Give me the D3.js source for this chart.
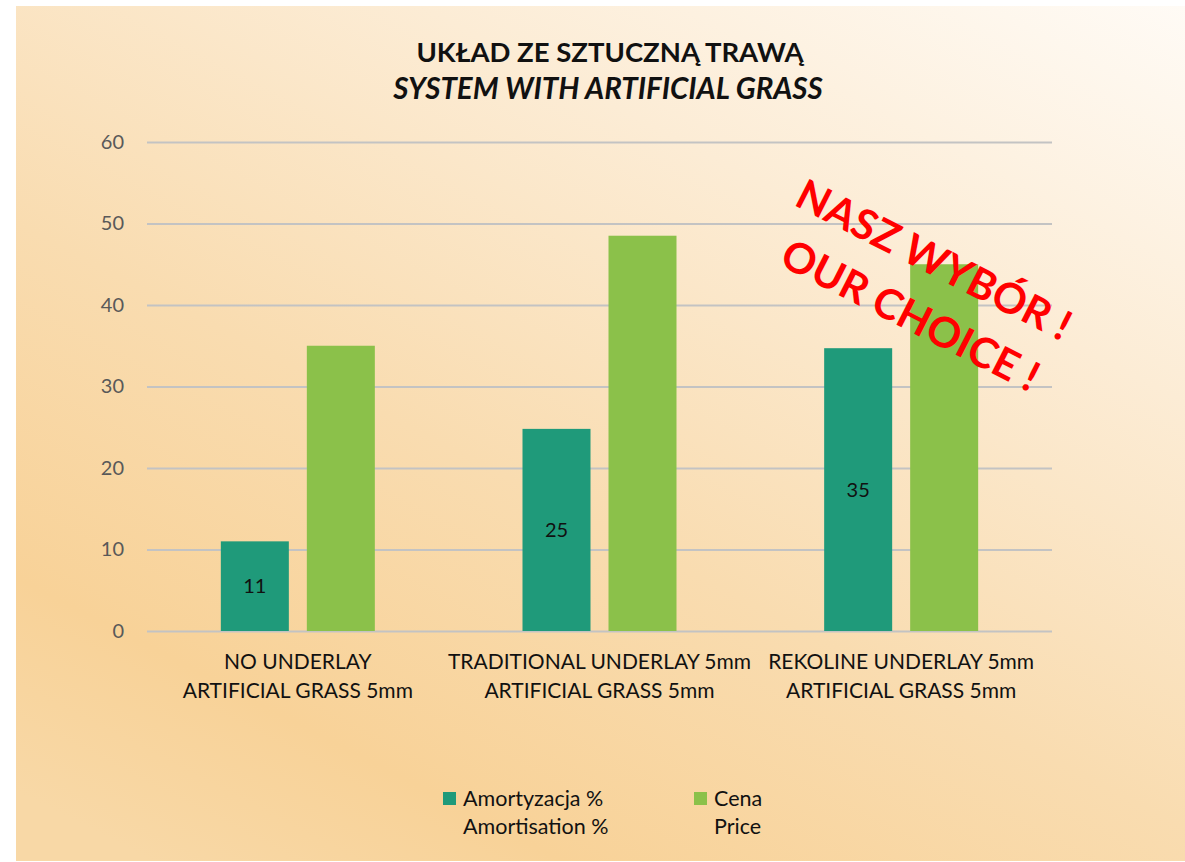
<!DOCTYPE html>
<html>
<head>
<meta charset="utf-8">
<script src="https://cdn.jsdelivr.net/npm/d3@7"></script>
<style>
  html, body { margin: 0; padding: 0; background: #ffffff; }
  svg { display: block; }
  text { font-family: Lato, "Open Sans", sans-serif; }
</style>
</head>
<body>
<svg id="chart" width="1185" height="862"></svg>
<script>
// ---- data ----
const categories = [
  ["NO UNDERLAY", "ARTIFICIAL GRASS 5mm"],
  ["TRADITIONAL UNDERLAY 5mm", "ARTIFICIAL GRASS 5mm"],
  ["REKOLINE UNDERLAY 5mm", "ARTIFICIAL GRASS 5mm"]
];
const amortisation = [11, 24.8, 34.7];
const price = [35, 48.5, 45];
const seriesNames = [["Amortyzacja %", "Amortisation %"], ["Cena", "Price"]];
const yTicks = [0, 10, 20, 30, 40, 50, 60];
const titleLines = ["UKŁAD ZE SZTUCZNĄ TRAWĄ", "SYSTEM WITH ARTIFICIAL GRASS"];
const stampLines = ["NASZ WYBÓR !", "OUR CHOICE !"];

const colors = ["#1f9a7a", "#8bc14a"];

const svg = d3.select("#chart");
const W = 1185, H = 862;

// background gradient
const defs = svg.append("defs");
const grad = defs.append("linearGradient").attr("id", "bg")
  .attr("gradientUnits", "userSpaceOnUse")
  .attr("x1", 1000).attr("y1", -120).attr("x2", 420).attr("y2", 1000);
[[0, "#fffcf8"], [0.3, "#fcecd5"], [0.6, "#f9dcb0"], [0.85, "#f8d298"], [1, "#f8d8a6"]]
  .forEach(([o, c]) => grad.append("stop").attr("offset", o).attr("stop-color", c));
svg.append("rect").attr("x", 16).attr("y", 6).attr("width", W - 16).attr("height", H - 7)
  .attr("fill", "url(#bg)");

// scales
const plotL = 147, plotR = 1052, plotT = 142, plotB = 631;
const x0 = d3.scaleBand().domain(d3.range(categories.length)).range([plotL, plotR]).padding(0);
const y = d3.scaleLinear().domain([0, 60]).range([plotB, plotT]);
const barW = 68, barGap = 18;
const x1 = d3.scaleBand().domain([0, 1])
  .range([-(barW + barGap / 2), barW + barGap / 2])
  .paddingInner(barGap / (barW + barGap)).paddingOuter(0);

// gridlines
const yAxis = d3.axisLeft(y).tickValues(yTicks).tickSize(-(plotR - plotL)).tickPadding(23);
const gy = svg.append("g").attr("transform", `translate(${plotL},0)`).call(yAxis);
gy.select(".domain").remove();
gy.selectAll(".tick line").attr("stroke", "#c3c3c3").attr("stroke-width", 2);
gy.selectAll(".tick text").attr("fill", "#595959").style("font-size", "20px")
  .style("font-family", "Lato, sans-serif");

// bars
const series = [amortisation, price];
const groups = svg.append("g").selectAll("g").data(categories).join("g")
  .attr("transform", (d, i) => `translate(${x0(i) + x0.bandwidth() / 2},0)`);
groups.selectAll("rect").data((d, i) => series.map((s, k) => ({ k, v: s[i] }))).join("rect")
  .attr("x", d => x1(d.k)).attr("width", x1.bandwidth())
  .attr("y", d => y(d.v)).attr("height", d => y(0) - y(d.v))
  .attr("fill", d => colors[d.k]);

// data labels on amortisation bars
groups.append("text")
  .datum((d, i) => amortisation[i])
  .attr("x", x1(0) + x1.bandwidth() / 2)
  .attr("y", v => (y(v) + y(0)) / 2)
  .attr("dy", "0.36em")
  .attr("text-anchor", "middle")
  .style("font-size", "20px").attr("fill", "#111")
  .text(v => d3.format(".0f")(v));

// category labels
const catG = svg.append("g");
categories.forEach((lines, i) => {
  lines.forEach((l, j) => {
    catG.append("text")
      .attr("x", x0(i) + x0.bandwidth() / 2)
      .attr("y", plotB + 38 + j * 29)
      .attr("text-anchor", "middle")
      .style("font-size", "21px").attr("fill", "#111")
      .text(l);
  });
});

// title
svg.append("text").attr("x", 610).attr("y", 62).attr("text-anchor", "middle")
  .style("font-size", "27.5px").style("font-weight", "bold").attr("fill", "#111").text(titleLines[0]);
svg.append("text").attr("x", 608).attr("y", 99).attr("text-anchor", "middle")
  .style("font-size", "29.5px").style("font-weight", "bold").style("font-style", "italic")
  .attr("fill", "#111").text(titleLines[1]);

// legend
const legend = svg.append("g");
const legX = [443, 694];
seriesNames.forEach((names, k) => {
  legend.append("rect").attr("x", legX[k]).attr("y", 792).attr("width", 13).attr("height", 13)
    .attr("fill", colors[k]);
  names.forEach((n, j) => legend.append("text").attr("x", legX[k] + 20).attr("y", 806 + j * 28)
    .style("font-size", "21.5px").attr("fill", "#111").text(n));
});

// stamp
const stamp = svg.append("g").attr("transform", "translate(934,260) rotate(27)");
stamp.append("text").attr("x", 0).attr("y", 0).attr("dy", "0.35em").attr("text-anchor", "middle")
  .style("font-size", "42px").style("font-weight", "bold").attr("fill", "#ff0000").text(stampLines[0]);
stamp.append("text").attr("x", 4).attr("y", 60).attr("dy", "0.35em").attr("text-anchor", "middle")
  .style("font-size", "42px").style("font-weight", "bold").attr("fill", "#ff0000").text(stampLines[1]);
</script>
</body>
</html>
